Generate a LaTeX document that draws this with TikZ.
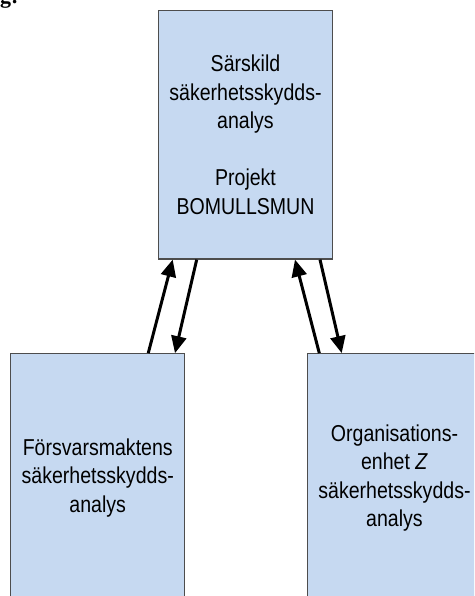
\documentclass[tikz,border=0pt]{standalone}
\usepackage{fontspec}
\setmainfont{Liberation Sans}[FakeStretch=0.85]
\newfontfamily\headfont{Liberation Serif}
\usetikzlibrary{arrows.meta, positioning}
\definecolor{boxblue}{HTML}{C6D9F1}
\definecolor{boxline}{HTML}{4D4D4D}

\begin{document}
\begin{tikzpicture}[x=1pt, y=-1pt,
    box/.style={draw=boxline, line width=1.2pt, fill=boxblue,
        minimum width=174pt, minimum height=248.5pt, inner sep=0pt,
        align=center, font=\fontsize{23}{28.5}\selectfont},
    flow/.style={line width=3pt, -{Triangle[length=17pt, width=15pt]}}]
    \clip (0,0) rectangle (474,596);
    \node[anchor=base west, inner sep=0pt,
        font=\headfont\bfseries\fontsize{22}{26}\selectfont] (head) at (0,3.5) {g:};
    \node[box] (top) at (245.5,134.75) {S\"arskild\\ s\"akerhetsskydds-\\ analys\\[28.5pt] Projekt\\ BOMULLSMUN};
    \node[box] (left) at (97.75,478) {F\"orsvarsmaktens\\ s\"akerhetsskydds-\\ analys};
    \node[box] (right) at (394.5,478) {Organisations-\\ enhet \textit{Z}\\ s\"akerhetsskydds-\\ analys};
    % left pair
    \draw[flow] ([xshift=50.5pt]left.north) -- ([xshift=-72.8pt]top.south);
    \draw[flow] ([xshift=-48.8pt]top.south) -- ([xshift=77.25pt]left.north);
    % right pair
    \draw[flow] ([xshift=-75.2pt]right.north) -- ([xshift=49.5pt]top.south);
    \draw[flow] ([xshift=74.5pt]top.south) -- ([xshift=-52.8pt]right.north);
\end{tikzpicture}
\end{document}
